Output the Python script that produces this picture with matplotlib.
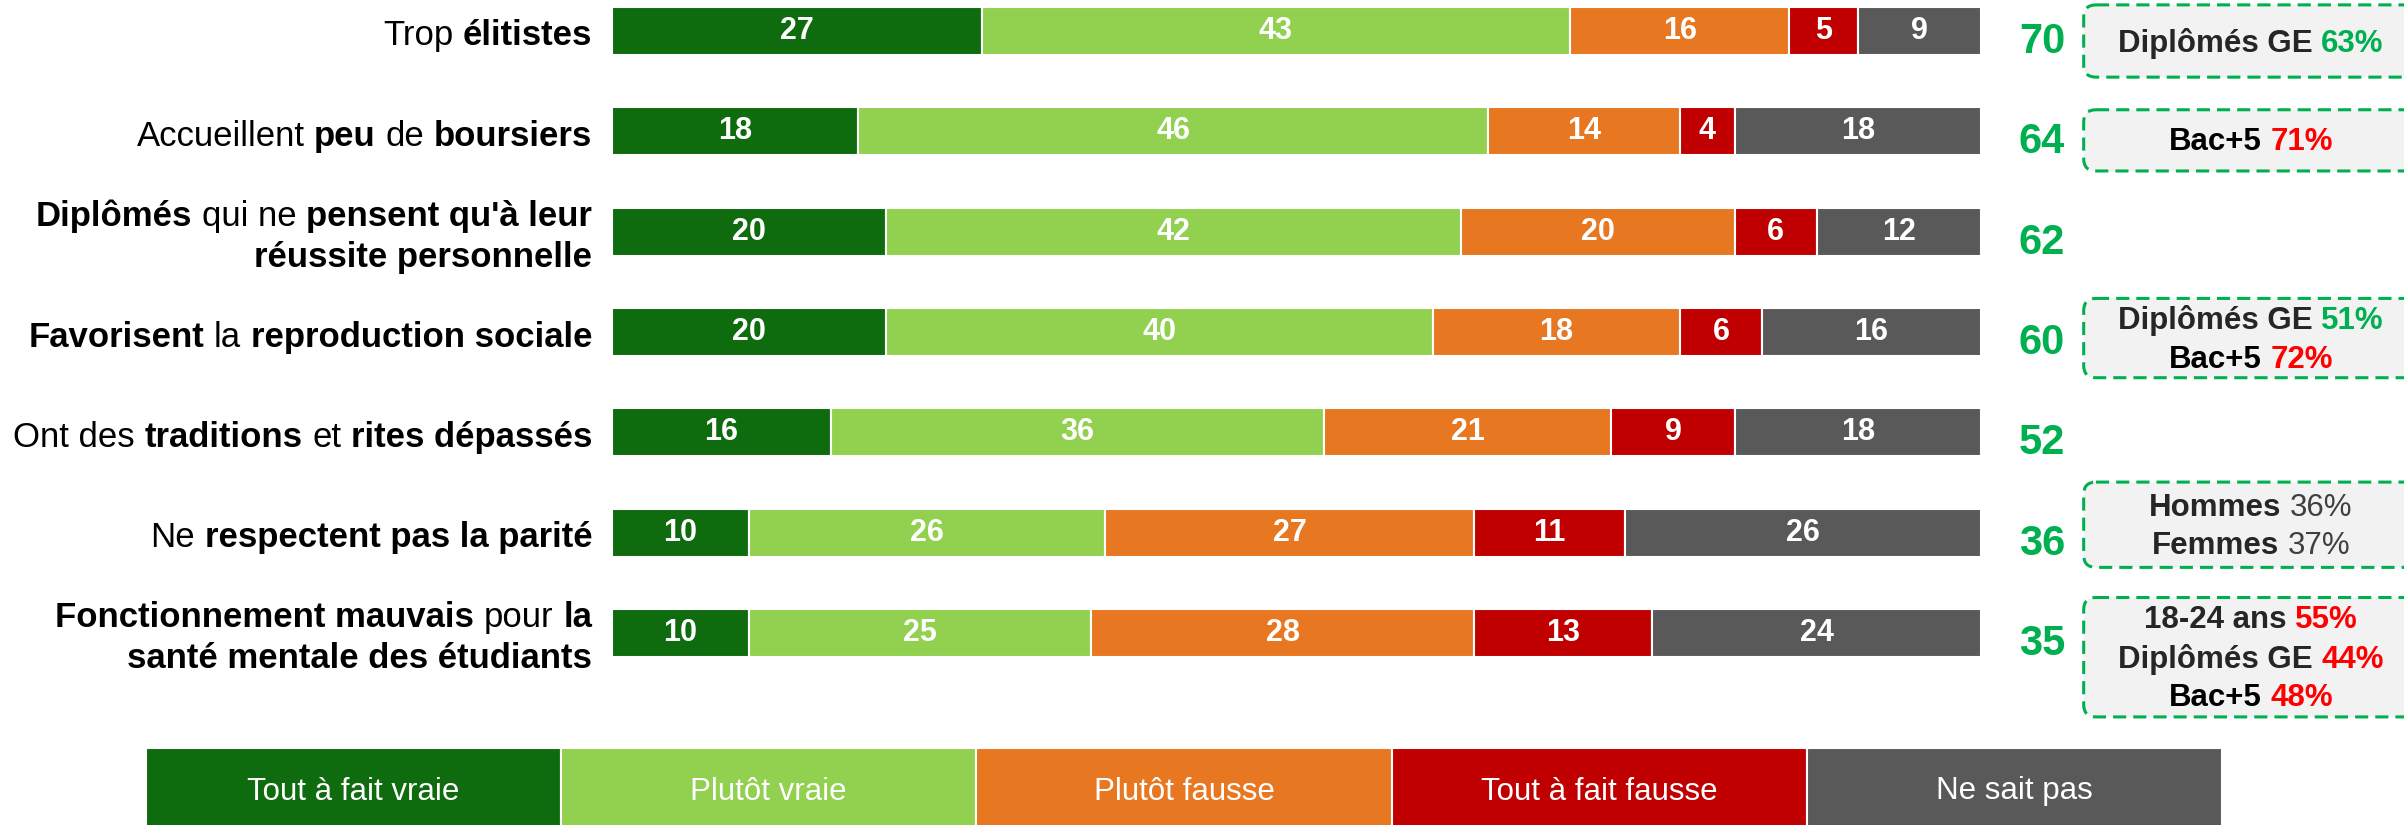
import matplotlib
matplotlib.use("Agg")
from matplotlib import pyplot as plt
from matplotlib.patches import FancyBboxPatch
from matplotlib.offsetbox import TextArea, HPacker, VPacker, AnnotationBbox
import numpy as np

plt.rcParams['font.family'] = ['Liberation Sans', 'DejaVu Sans']

# answer categories and colours
categories = ["Tout à fait vraie", "Plutôt vraie", "Plutôt fausse", "Tout à fait fausse", "Ne sait pas"]
colors = ["#0E6B0E", "#92D050", "#E87722", "#C00000", "#595959"]

# statements: lines of (text, bold)
labels = [
    [[("Trop", 0), ("élitistes", 1)]],
    [[("Accueillent", 0), ("peu", 1), ("de", 0), ("boursiers", 1)]],
    [[("Diplômés", 1), ("qui ne", 0), ("pensent qu'à leur", 1)], [("réussite personnelle", 1)]],
    [[("Favorisent", 1), ("la", 0), ("reproduction sociale", 1)]],
    [[("Ont des", 0), ("traditions", 1), ("et", 0), ("rites dépassés", 1)]],
    [[("Ne", 0), ("respectent pas la parité", 1)]],
    [[("Fonctionnement mauvais", 1), ("pour", 0), ("la", 1)], [("santé mentale des étudiants", 1)]],
]

tout_vraie = [27, 18, 20, 20, 16, 10, 10]
plutot_vraie = [43, 46, 42, 40, 36, 26, 25]
plutot_fausse = [16, 14, 20, 18, 21, 27, 28]
tout_fausse = [5, 4, 6, 6, 9, 11, 13]
nsp = [9, 18, 12, 16, 18, 26, 24]

# side notes per row: lines of (text, bold, colour)
GREEN = "#00B050"
RED = "#FF0000"
DARK = "#262626"
notes = {
    0: [[("Diplômés GE", 1, DARK), ("63%", 1, GREEN)]],
    1: [[("Bac+5", 1, "black"), ("71%", 1, RED)]],
    3: [[("Diplômés GE", 1, DARK), ("51%", 1, GREEN)], [("Bac+5", 1, "black"), ("72%", 1, RED)]],
    5: [[("Hommes", 1, DARK), ("36%", 0, "#404040")], [("Femmes", 1, DARK), ("37%", 0, "#404040")]],
    6: [[("18-24 ans", 1, DARK), ("55%", 1, RED)], [("Diplômés GE", 1, DARK), ("44%", 1, RED)],
        [("Bac+5", 1, "black"), ("48%", 1, RED)]],
}
# (centre offset, height) of each note box, in rows
note_boxes = {0: (0.10, 0.72), 1: (0.09, 0.61), 3: (0.06, 0.79), 5: (-0.08, 0.85), 6: (0.24, 1.19)}

series = [tout_vraie, plutot_vraie, plutot_fausse, tout_fausse, nsp]
n = len(labels)
y = np.arange(n)

W, H = 2404, 825
fig = plt.figure(figsize=(W / 100, H / 100), dpi=100)
ax_l, ax_w = 612 / W, 1369 / W
ax_b, ax_h = (H - 683.3) / H, 702.5 / H
ax = fig.add_axes([ax_l, ax_b, ax_w, ax_h])

left = np.zeros(n)
for vals, col in zip(series, colors):
    bars = ax.barh(y, vals, left=left, height=0.48, color=col, edgecolor='white', linewidth=1.5)
    ax.bar_label(bars, labels=[str(v) for v in vals], label_type='center',
                 color='white', fontsize=22, fontweight='bold')
    left += np.array(vals)

ax.set_xlim(0, 100)
ax.set_ylim(n - 0.5, -0.5)
ax.axis('off')


def rich(lines, size, line_sep, align):
    rows = []
    for line in lines:
        parts = []
        for item in line:
            txt, bold = item[0], item[1]
            col = item[2] if len(item) > 2 else 'black'
            parts.append(TextArea(txt, textprops=dict(fontsize=size, color=col,
                                                      fontweight='bold' if bold else 'normal')))
        rows.append(HPacker(children=parts, align='baseline', pad=0, sep=size * 0.278))
    return VPacker(children=rows, align=align, pad=0, sep=line_sep)


# statement labels on the left
for i, lab in enumerate(labels):
    box = rich(lab, 25, 5.5, 'right')
    ab = AnnotationBbox(box, (-1.45, i + 0.05), xycoords='data', box_alignment=(1, 0.5),
                        frameon=False, pad=0, annotation_clip=False)
    ax.add_artist(ab)

# totals (vraie)
totals = [a + b for a, b in zip(tout_vraie, plutot_vraie)]
for i, t in enumerate(totals):
    ax.text(104.45, i + 0.11, str(t), ha='center', va='center', fontsize=30,
            fontweight='bold', color=GREEN, clip_on=False)

# note boxes
px_x = ax_w * W / 100
px_y = ax_h * H / n
aspect = px_x / px_y
for i, lines in notes.items():
    off, hh = note_boxes[i]
    cy = i + off
    patch = FancyBboxPatch((107.5, cy - hh / 2), 24.5, hh,
                           boxstyle="round,pad=0,rounding_size=0.9", mutation_aspect=aspect,
                           facecolor="#F2F2F2", edgecolor=GREEN, linewidth=2.2,
                           linestyle=(0, (4.3, 2.3)), clip_on=False, zorder=2)
    ax.add_patch(patch)
    box = rich(lines, 22.5, 6.0, 'center')
    ab = AnnotationBbox(box, (119.7, cy + 0.02), xycoords='data', box_alignment=(0.5, 0.5),
                        frameon=False, pad=0, annotation_clip=False, zorder=3)
    ax.add_artist(ab)

# legend strip
lg = fig.add_axes([146 / W, -10 / H, 2076 / W, 87 / H])
lg.bar(np.arange(len(categories)), 1, width=1, align='edge', color=colors,
       edgecolor='white', linewidth=1.5)
for k, cat in enumerate(categories):
    lg.text(k + 0.5, 0.5, cat, ha='center', va='center', color='white', fontsize=22.5)
lg.set_xlim(0, len(categories))
lg.set_ylim(0, 1)
lg.axis('off')

fig.savefig("out.png", dpi=100)
